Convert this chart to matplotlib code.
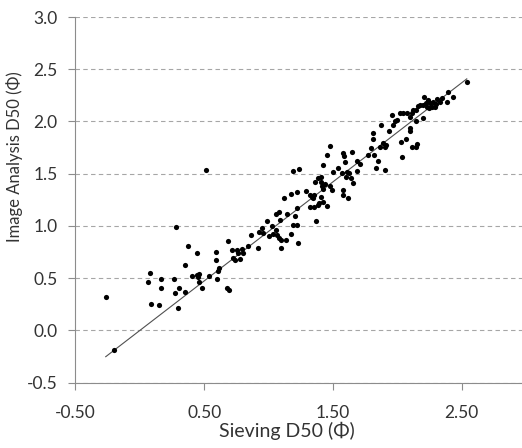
import numpy as np
import matplotlib.pyplot as plt

plt.rcParams['font.family'] = ['Lato', 'DejaVu Sans']

# sieving D50 (phi) vs image analysis D50 (phi)
sieve = [-0.265, -0.199, 0.063, 0.077, 0.084, 0.151, 0.162, 0.162, 0.268, 0.283,
         0.276, 0.306, 0.299, 0.351, 0.351, 0.372, 0.408, 0.446, 0.460, 0.454,
         0.462, 0.485, 0.442, 0.514, 0.537, 0.592, 0.592, 0.615, 0.605, 0.597,
         0.683, 0.675, 0.695,
         0.718, 0.726, 0.739, 0.757, 0.765, 0.778, 0.796, 0.799, 0.843, 0.864,
         0.921, 0.926, 0.952, 0.955, 0.986, 1.025, 1.006, 1.032, 1.058, 1.063,
         1.081, 1.097, 1.097, 1.136, 1.175, 1.231, 1.058, 1.084, 1.089, 1.146,
         1.205, 1.219, 1.192, 1.223,
         1.123, 1.172, 1.219, 1.192, 1.237, 1.291, 1.322, 1.335, 1.348, 1.356,
         1.322, 1.350, 1.387, 1.394, 1.421, 1.369, 1.452, 1.408, 1.361, 1.387,
         1.408, 1.408, 1.418, 1.426, 1.439, 1.421, 1.452, 1.478, 1.478, 1.491,
         1.498, 1.537, 1.568, 1.602, 1.628, 1.639, 1.659, 1.576, 1.581, 1.620,
         1.581, 1.589, 1.646, 1.690, 1.711, 1.685, 1.775, 1.594, 1.612,
         1.793, 1.819, 1.853, 1.832, 1.905, 1.866, 1.892, 1.913, 1.905, 1.814,
         1.814, 1.874, 1.938, 1.957, 1.969, 1.983, 1.996, 2.021, 2.047, 2.073,
         2.099, 2.112, 2.125, 2.146, 2.099, 2.099, 2.027, 2.066, 2.035, 2.112,
         2.146, 2.156, 2.159, 2.177, 2.203, 2.211, 2.229, 2.247,
         2.540, 2.436, 2.392, 2.384, 2.345, 2.332, 2.311, 2.301, 2.293, 2.280,
         2.268, 2.255, 2.242, 2.223, 2.198, 2.146]
image = [0.316, -0.186, 0.467, 0.550, 0.256, 0.240, 0.492, 0.409, 0.492, 0.990,
         0.359, 0.406, 0.215, 0.371, 0.626, 0.804, 0.517, 0.533, 0.543, 0.508,
         0.467, 0.406, 0.737, 1.531, 0.524, 0.750, 0.677, 0.597, 0.572, 0.492,
         0.852, 0.406, 0.383,
         0.766, 0.693, 0.670, 0.772, 0.740, 0.683, 0.782, 0.740, 0.804, 0.915,
         0.789, 0.946, 0.979, 0.932, 1.043, 1.002, 0.900, 0.925, 0.964, 0.915,
         0.884, 0.868, 0.789, 0.862, 0.925, 0.837, 1.117, 1.133, 1.053, 1.117,
         1.098, 1.171, 1.005, 1.005,
         1.267, 1.305, 1.324, 1.528, 1.547, 1.339, 1.298, 1.282, 1.267, 1.298,
         1.186, 1.186, 1.203, 1.219, 1.234, 1.050, 1.193, 1.282, 1.420, 1.458,
         1.473, 1.425, 1.378, 1.353, 1.401, 1.588, 1.681, 1.767, 1.378, 1.346,
         1.521, 1.553, 1.506, 1.473, 1.506, 1.458, 1.410, 1.346, 1.298, 1.267,
         1.697, 1.674, 1.712, 1.623, 1.595, 1.530, 1.681, 1.617, 1.521,
         1.745, 1.681, 1.626, 1.559, 1.537, 1.760, 1.792, 1.776, 1.754, 1.894,
         1.831, 1.967, 1.913, 2.063, 1.967, 2.000, 2.015, 2.079, 2.085, 2.079,
         2.047, 2.079, 2.111, 2.000, 1.936, 1.913, 1.808, 1.831, 1.659, 1.760,
         1.760, 1.783, 2.149, 2.159, 2.159, 2.232, 2.142, 2.127,
         2.381, 2.238, 2.280, 2.190, 2.222, 2.184, 2.213, 2.168, 2.142, 2.190,
         2.137, 2.175, 2.207, 2.175, 2.032, 2.111]

# linear trendline shown on the chart (slope, intercept)
trend_slope = 0.948
trend_intercept = 0.0

sieve = np.array(sieve)
image = np.array(image)

fig = plt.figure(figsize=(5.22, 4.48), dpi=100)
ax = fig.add_axes([0.1446, 0.1458, 0.8554, 0.8162])

ax.scatter(sieve, image, s=14, c='black', zorder=3, linewidths=0)

xs = np.array([sieve.min(), sieve.max()])
ax.plot(xs, trend_slope * xs + trend_intercept, color='#505050', lw=0.8, zorder=2)

ax.set_xlim(-0.5, 2.969)
ax.set_ylim(-0.5, 3.0)
ax.set_xticks([-0.5, 0.5, 1.5, 2.5])
ax.set_xticklabels(['-0.50', '0.50', '1.50', '2.50'])
ax.set_yticks(np.arange(-0.5, 3.01, 0.5))
ax.set_yticklabels(['%.1f' % v for v in np.arange(-0.5, 3.01, 0.5)])

ax.yaxis.grid(True, ls=(0, (4, 3)), color='#a6a6a6', lw=0.8)
ax.set_axisbelow(True)
for s in ['top', 'right']:
    ax.spines[s].set_visible(False)
for s in ['left', 'bottom']:
    ax.spines[s].set_color('#8c8c8c')
    ax.spines[s].set_linewidth(0.8)
ax.tick_params(colors='#8c8c8c', labelcolor='#333333', labelsize=12.5, length=5, width=0.8)
ax.tick_params(axis='y', pad=8)
ax.tick_params(axis='x', pad=11)

ax.set_xlabel('Sieving D50 (Φ)', fontsize=14, color='#333333')
ax.set_ylabel('Image Analysis D50 (Φ)', fontsize=12, color='#333333')
ax.xaxis.set_label_coords(0.473, -0.108)
ax.yaxis.set_label_coords(-0.118, 0.617)

fig.savefig('out.png', dpi=100)
